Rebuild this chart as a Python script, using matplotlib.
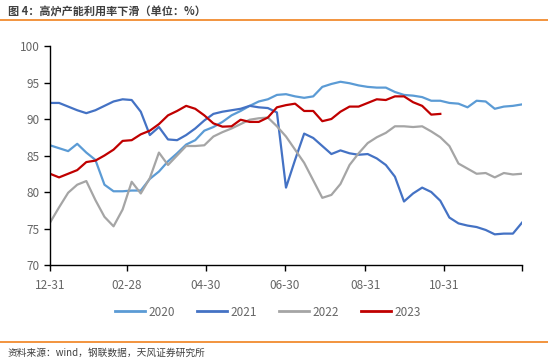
import matplotlib
matplotlib.use('Agg')
import matplotlib.pyplot as plt
from matplotlib.lines import Line2D

plt.rcParams['font.family'] = ['Noto Sans CJK SC', 'DejaVu Sans']

# 周度数据 (12-31 起, 每周一个点)
v2020 = [86.4, 86.0, 85.6, 86.6, 85.4, 84.4, 81.0, 80.1, 80.1, 80.2,
         80.2, 81.8, 82.8, 84.2, 85.3, 86.5, 87.1, 88.4, 88.9, 89.6,
         90.5, 91.1, 91.8, 92.4, 92.7, 93.3, 93.4, 93.1, 92.9, 93.1,
         94.4, 94.8, 95.1, 94.9, 94.6, 94.4, 94.3, 94.3, 93.7, 93.3,
         93.2, 93.0, 92.5, 92.5, 92.2, 92.1, 91.6, 92.5, 92.4, 91.4,
         91.7, 91.8, 92.0]
v2021 = [92.2, 92.2, 91.7, 91.2, 90.8, 91.2, 91.8, 92.4, 92.7, 92.6,
         91.0, 87.8, 88.9, 87.2, 87.1, 87.8, 88.7, 89.8, 90.7, 91.0,
         91.2, 91.4, 91.8, 91.6, 91.5, 90.9, 80.6, 84.4, 88.0, 87.4,
         86.3, 85.2, 85.7, 85.3, 85.1, 85.2, 84.6, 83.7, 82.1, 78.7,
         79.8, 80.6, 80.0, 78.8, 76.5, 75.7, 75.4, 75.2, 74.8, 74.2,
         74.3, 74.3, 75.8]
v2022 = [75.8, 77.9, 79.9, 81.0, 81.5, 78.9, 76.6, 75.3, 77.6, 81.4,
         79.8, 81.9, 85.4, 83.7, 85.0, 86.3, 86.3, 86.4, 87.6, 88.2,
         88.7, 89.3, 89.9, 90.1, 90.2, 89.0, 87.6, 85.8, 84.0, 81.6,
         79.2, 79.6, 81.1, 83.7, 85.3, 86.7, 87.5, 88.1, 89.0, 89.0,
         88.9, 89.0, 88.3, 87.5, 86.3, 83.9, 83.2, 82.5, 82.6, 82.0,
         82.6, 82.4, 82.5]
v2023 = [82.5, 82.0, 82.5, 83.0, 84.1, 84.3, 85.0, 85.8, 87.0, 87.1,
         87.9, 88.4, 89.3, 90.5, 91.1, 91.8, 91.4, 90.5, 89.4, 88.95,
         89.0, 89.9, 89.6, 89.6, 90.2, 91.6, 91.9, 92.1, 91.1, 91.1,
         89.7, 90.0, 91.0, 91.7, 91.7, 92.2, 92.7, 92.6, 93.1, 93.1,
         92.3, 91.8, 90.6, 90.7]

names = ['2020', '2021', '2022', '2023']
colors = ['#5B9BD5', '#4472C4', '#A5A5A5', '#C00000']
tick_days = [0, 59, 120, 181, 243, 304, 364]
tick_labels = ['12-31', '02-28', '04-30', '06-30', '08-31', '10-31', '']

fig = plt.figure(figsize=(5.48, 3.64), dpi=100)
ax = fig.add_axes([50/548, 1-265/364, 472/548, 219/364])

for vals, c, n in zip([v2020, v2021, v2022, v2023], colors, names):
    days = [7*i for i in range(len(vals))]
    ax.plot(days, vals, color=c, lw=1.6, label=n)

ax.set_xlim(0, 364)
ax.set_ylim(70, 100)
ax.set_yticks(range(70, 101, 5))
ax.set_xticks(tick_days)
ax.set_xticklabels(tick_labels)
for s in ['top', 'right']:
    ax.spines[s].set_visible(False)
for s in ['left', 'bottom']:
    ax.spines[s].set_linewidth(1.0)
    ax.spines[s].set_color('black')
ax.tick_params(axis='both', labelsize=8.5, labelcolor='#666666', length=4, width=1.0, color='black')
ax.tick_params(axis='x', pad=6)

handles = [Line2D([], [], color=c, lw=2) for c in colors]
fig.legend(handles, names, loc='center', bbox_to_anchor=(268/548, 1-312/364), ncol=4,
           frameon=False, fontsize=8.5, handlelength=2.6, columnspacing=1.8, handletextpad=0.3,
           labelcolor='#666666')

fig.text(8/548, 1-12/364, '图 4：高炉产能利用率下滑（单位：%）', fontsize=8, fontweight='bold',
         color='#404040', va='center', ha='left')
fig.add_artist(Line2D([0, 1], [1-20/364, 1-20/364], color='#F0821E', lw=1.2))
fig.add_artist(Line2D([0, 1], [1-342/364, 1-342/364], color='#F0821E', lw=1.2))
fig.text(8/548, 1-353/364, '资料来源：wind，钢联数据，天风证券研究所', fontsize=7,
         color='#404040', va='center', ha='left')

fig.savefig('out.png', dpi=100)
